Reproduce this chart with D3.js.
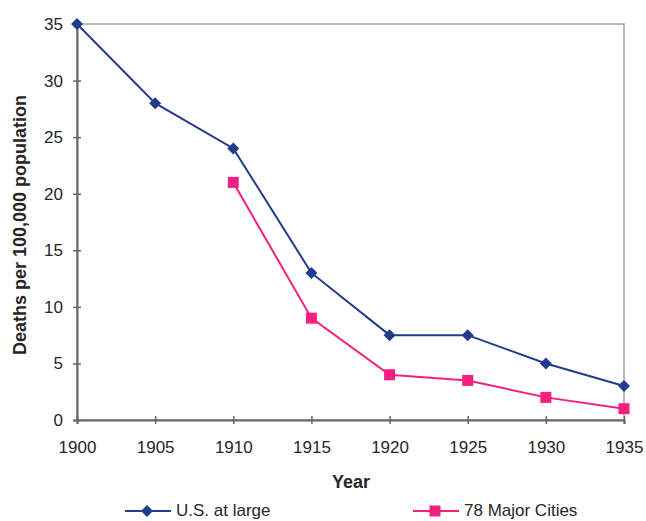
<!DOCTYPE html>
<html><head><meta charset="utf-8">
<script src="https://cdn.jsdelivr.net/npm/d3@7"></script>
<style>body{margin:0;background:#fff}svg{display:block}text{font-family:"Liberation Sans",Arial,sans-serif}</style>
</head><body><div id="c"></div>
<script>
const years = [1900,1905,1910,1915,1920,1925,1930,1935];
const usAtLarge = [35,28,24,13,7.5,7.5,5,3];
const cityYears = [1910,1915,1920,1925,1930,1935];
const majorCities = [21,9,4,3.5,2,1];
const yTicks = [0,5,10,15,20,25,30,35];
const seriesNames = ["U.S. at large","78 Major Cities"];

const W=646,H=521;
const m={l:77,r:22,t:24,b:101};
const svg=d3.select("#c").append("svg").attr("width",W).attr("height",H);
const x=d3.scaleLinear().domain([1900,1935]).range([m.l,W-m.r]);
const y=d3.scaleLinear().domain([0,35]).range([H-m.b,m.t]);
const axisCol="#666", blue="#233b8c", pink="#f3207f", txt="#262626";

svg.append("rect").attr("x",x(1900)).attr("y",y(35)).attr("width",x(1935)-x(1900)).attr("height",y(0)-y(35))
  .attr("fill","none").attr("stroke","#a0a0a0").attr("stroke-width",1.5);

const xa=svg.append("g").attr("transform",`translate(0,${y(0)})`)
  .call(d3.axisBottom(x).tickValues(years).tickFormat(d3.format("d")).tickSize(4).tickPadding(17));
const ya=svg.append("g").attr("transform",`translate(${x(1900)},0)`)
  .call(d3.axisLeft(y).tickValues(yTicks).tickSize(4).tickPadding(10));
[xa,ya].forEach(g=>{
  g.select(".domain").attr("stroke",axisCol).attr("stroke-width",2);
  g.selectAll(".tick line").attr("stroke",axisCol).attr("stroke-width",1.5);
  g.selectAll(".tick text").attr("fill",txt).style("font-size","17px");
});
xa.selectAll(".tick line").attr("y1",-4);
ya.selectAll(".tick line").attr("x1",4);

const line=d3.line().x(d=>x(d[0])).y(d=>y(d[1]));
const usData=years.map((yr,i)=>[yr,usAtLarge[i]]);
const cData=cityYears.map((yr,i)=>[yr,majorCities[i]]);

svg.append("path").datum(usData).attr("d",line).attr("fill","none").attr("stroke",blue).attr("stroke-width",2);
svg.append("path").datum(cData).attr("d",line).attr("fill","none").attr("stroke",pink).attr("stroke-width",2);

const dia = "M0,-6L6,0L0,6L-6,0Z";
svg.selectAll(".us").data(usData).join("path").attr("d",dia)
  .attr("transform",d=>`translate(${x(d[0])},${y(d[1])})`).attr("fill",blue);
svg.selectAll(".ct").data(cData).join("rect")
  .attr("x",d=>x(d[0])-5.5).attr("y",d=>y(d[1])-5.5).attr("width",11).attr("height",11).attr("fill",pink);

svg.append("text").attr("x",351).attr("y",488).attr("text-anchor","middle")
  .style("font-size","18px").style("font-weight","bold").attr("fill",txt).text("Year");
svg.append("text").attr("transform","translate(26,225) rotate(-90)").attr("text-anchor","middle")
  .style("font-size","18px").style("font-weight","bold").attr("fill",txt).text("Deaths per 100,000 population");

const lg=[{x:125,c:blue,s:"d"},{x:413,c:pink,s:"s"}];
lg.forEach((l,i)=>{
  const ly=511;
  svg.append("line").attr("x1",l.x).attr("x2",l.x+46).attr("y1",ly).attr("y2",ly).attr("stroke",l.c).attr("stroke-width",2);
  if(l.s==="d") svg.append("path").attr("d",dia).attr("transform",`translate(${l.x+22},${ly})`).attr("fill",l.c);
  else svg.append("rect").attr("x",l.x+22-5.5).attr("y",ly-5.5).attr("width",11).attr("height",11).attr("fill",l.c);
  svg.append("text").attr("x",l.x+51).attr("y",ly+5).style("font-size","17px").attr("fill",txt).text(seriesNames[i]);
});
</script></body></html>
